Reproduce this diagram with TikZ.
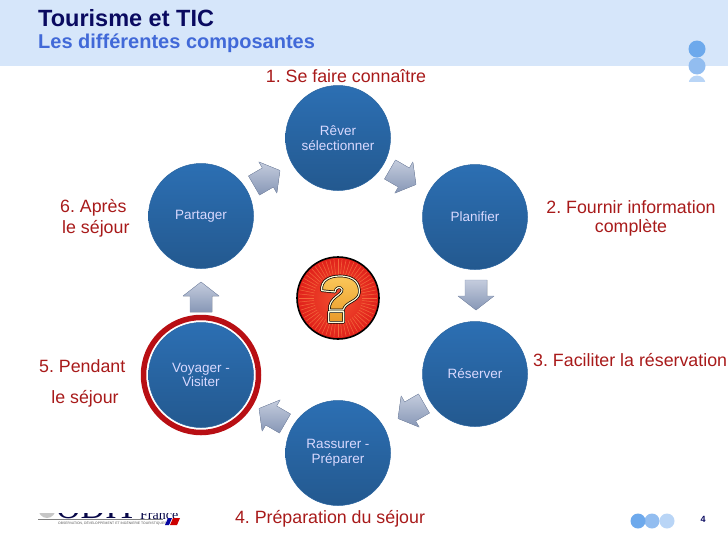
\documentclass[tikz,border=0pt]{standalone}
\usepackage{fontspec}
\usetikzlibrary{calc}
\setmainfont{Liberation Sans}
\newfontfamily\logoserif{Liberation Serif}
\definecolor{barblue}{HTML}{D6E6FA}
\definecolor{navy}{HTML}{0A0A60}
\definecolor{subblue}{HTML}{4169D8}
\definecolor{labelred}{HTML}{A81A1A}
\definecolor{ringred}{HTML}{B80F14}
\definecolor{discA}{HTML}{6DA9EC}
\definecolor{discB}{HTML}{92BDF0}
\definecolor{discC}{HTML}{B9D5F6}
\definecolor{stageblue}{HTML}{2C6FB3}
\definecolor{arrowlight}{HTML}{C4CCDD}
\definecolor{arrowdark}{HTML}{8797B6}
\definecolor{badgelight}{HTML}{F25030}
\definecolor{badgedark}{HTML}{E0201A}
\definecolor{qlight}{HTML}{FBC85A}
\definecolor{qdark}{HTML}{E89A28}
\definecolor{rayorange}{HTML}{F4683C}
\tikzset{
  stage/.style={circle,minimum size=105pt,inner sep=0pt,top color=stageblue,bottom color=stageblue!80!black,
    draw=stageblue!88!black,line width=.5pt,
    text=white!85!blue,align=center,font=\fontsize{13.5}{14.5}\selectfont},
  steplabel/.style={text=labelred,font=\fontsize{17.8}{21}\selectfont,align=center,inner sep=0pt},
  blockarrow/.pic={
    \fill[top color=arrowlight,bottom color=arrowdark,draw=arrowdark,line width=.4pt,line join=round]
      (-15,-11) -- (1,-11) -- (1,-18) -- (15,0) -- (1,18) -- (1,11) -- (-15,11) -- cycle;
  },
}
\begin{document}
\frenchspacing
\begin{tikzpicture}[x=1pt,y=-1pt]
\useasboundingbox (0,0) rectangle (728,546);
\clip (0,0) rectangle (728,546);
% header
\fill[barblue] (0,0) rectangle (728,66);
\node[anchor=west,inner sep=0pt,text=navy,font=\bfseries\fontsize{23.5}{25}\selectfont] (title) at (38,18) {Tourisme et TIC};
\node[anchor=west,inner sep=0pt,text=subblue,font=\bfseries\fontsize{20}{22}\selectfont] (subtitle) at (38,43) {Les différentes composantes};
\begin{scope}
\clip (680,30) rectangle (715,81.5);
\fill[discC] (697,84) circle[radius=8.5];
\fill[discB] (697,66) circle[radius=8.5];
\fill[discA] (697,49) circle[radius=8.5];
\end{scope}
% stages
\node[stage] (reve) at (338,138) {Rêver\\sélectionner};
\node[stage] (plan) at (475,217) {Planifier};
\node[stage] (resa) at (475,374) {Réserver};
\node[stage] (rass) at (338,453) {Rassurer -\\Préparer};
\node[stage] (voya) at (201,375) {Voyager -\\Visiter};
\node[stage] (part) at (201,216) {Partager};
\node[circle,draw=ringred,line width=5.5pt,minimum size=115pt,inner sep=0pt] (ring) at (voya) {};
% block arrows
\path (267,178) pic[rotate=30] {blockarrow};
\path (403,177) pic[rotate=-30] {blockarrow};
\path (476,295) pic[rotate=-90] {blockarrow};
\path (411,411) pic[rotate=-150] {blockarrow};
\path (272,416) pic[rotate=150] {blockarrow};
\path (201,297) pic[rotate=90] {blockarrow};
% question mark badge
\node[circle,minimum size=82pt,inner sep=0pt,draw=black,line width=1.6pt,inner color=badgelight,outer color=badgedark] (quest) at (338,298) {};
\foreach \a in {0,6,...,354}{
  \draw[rayorange,line width=.5pt] ($(quest)+(\a:24)$) -- ($(quest)+(\a:39)$);
}
\begin{scope}[shift={(280,260)},x=.3333pt,y=-.3333pt]
\def\qmark{(125,92) .. controls (122,60) and (150,48) .. (180,48) .. controls (225,48) and (240,72) .. (238,98)
  .. controls (236,125) and (195,125) .. (190,150) -- (148,150) .. controls (146,110) and (190,105) .. (186,88)
  .. controls (182,78) and (165,82) .. (165,96) -- cycle
  (146,155) rectangle (191,187)}
\fill[top color=qlight,bottom color=qdark] \qmark;
\draw[black,line width=2.6pt,line join=round] \qmark;
\draw[white!85!yellow,line width=1.2pt,line join=round] \qmark;
\end{scope}
% step labels
\node[steplabel] (l1) at (346,76.5) {1. Se faire connaître};
\node[steplabel] (l2a) at (631,207.5) {2. Fournir information};
\node[steplabel] (l2b) at (631,228) {complète};
\node[steplabel,anchor=west] (l3) at (533,360.5) {3. Faciliter la réservation};
\node[steplabel] (l4) at (330,519) {4. Préparation du séjour};
\node[steplabel,anchor=west] (l5a) at (39,366.5) {5. Pendant};
\node[steplabel] (l5b) at (85,398.5) {le séjour};
\node[steplabel,anchor=west] (l6a) at (60,207.5) {6. Après};
\node[steplabel,anchor=west] (l6b) at (62,228.5) {le séjour};
% footer logo (cropped at its top)
\begin{scope}
\clip (30,513) rectangle (190,530);
\fill[gray!45] (47,508) ellipse[x radius=9,y radius=10];
\node[anchor=south west,inner sep=0pt,text=navy!75!black,font=\logoserif\fontsize{34}{34}\selectfont] (odit) at (56,519) {ODIT};
\node[anchor=south west,inner sep=0pt,text=navy!75!black,font=\logoserif\fontsize{14}{14}\selectfont] (fr) at (140,519.5) {France};
\end{scope}
\draw[gray,line width=.5pt] (38,519.3) -- (163,519.3);
\node[anchor=west,inner sep=0pt,text=gray!70!black,font=\fontsize{3.4}{4}\selectfont] (obs) at (58,523) {OBSERVATION, DÉVELOPPEMENT ET INGÉNIERIE TOURISTIQUES};
\fill[navy!60!blue] (165,525) -- (168,518) -- (172,518) -- (169,525) -- cycle;
\fill[red!80!black] (170,525) -- (173,518) -- (180,518) -- (177,525) -- cycle;
% footer
\fill[discC] (667,521) circle[radius=7.5];
\fill[discB] (652,521) circle[radius=7.5];
\fill[discA] (638,521) circle[radius=7.5];
\node[inner sep=0pt,text=navy,font=\bfseries\fontsize{9}{10}\selectfont] (pageno) at (703,519) {4};
\end{tikzpicture}
\end{document}
